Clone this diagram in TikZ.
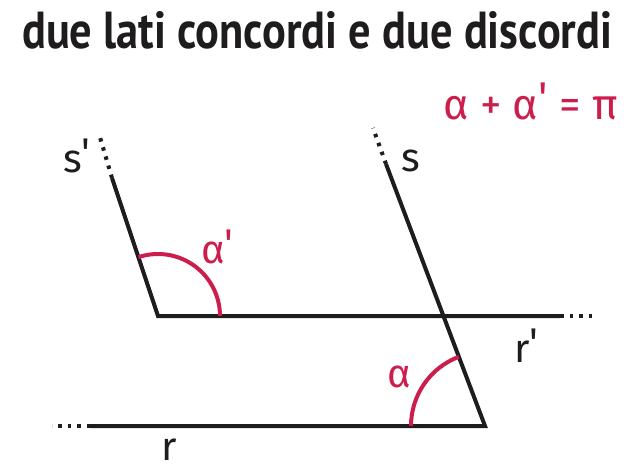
\documentclass[tikz,border=0pt]{standalone}
\usepackage{fontspec}
\usepackage{graphicx}
\newfontfamily\titlefont{PT Sans}
\newfontfamily\labfont{Fira Sans}
\definecolor{ink}{RGB}{30,28,29}
\definecolor{angred}{RGB}{204,30,76}
\newcommand{\pr}{\char"0027}
\tikzset{
  seg/.style={draw=ink, line width=4pt},
  dotext/.style={draw=ink, line width=4pt, dash pattern=on 3.5pt off 6pt},
  angarc/.style={draw=angred, line width=4pt},
  lab/.style={inner sep=0pt, anchor=base west, text=ink, font=\labfont\fontsize{40}{40}\selectfont},
  redlab/.style={lab, text=angred}
}
\begin{document}
\begin{tikzpicture}[x=1pt, y=-1pt]
\useasboundingbox (0,0) rectangle (636,470);
% title
\node[inner sep=0pt, anchor=base west, text=ink] (title) at (22,49)
  {\resizebox{590pt}{37pt}{\titlefont\bfseries due lati concordi e due discordi}};
% formula
\node[redlab, font=\labfont\fontsize{43}{43}\selectfont] (formula) at (443,120) {α + α\raisebox{7pt}{\pr} = π};
% points
\coordinate (A) at (158,316);
\coordinate (Ae) at (560,316);
\coordinate (Ad) at (592,316);
\coordinate (As) at (112,178);
\coordinate (Asd) at (99,134);
\coordinate (B) at (485,426);
\coordinate (Bw) at (90,426);
\coordinate (Bwd) at (52,426);
\coordinate (Bs) at (386,164);
\coordinate (Bsd) at (373,128);
% lines
\draw[seg, line join=miter] (As) -- (A) -- (Ae);
\draw[dotext] (Ae) -- (Ad);
\draw[dotext] (As) -- (Asd);
\draw[seg, line join=miter] (Bw) -- (B) -- (Bs);
\draw[dotext] (Bw) -- (Bwd);
\draw[dotext] (Bs) -- (Bsd);
% arcs
\draw[angarc] (A) ++(0:62) arc[start angle=0, end angle=-108.4, radius=62];
\draw[angarc] (B) ++(-180:74) arc[start angle=-180, end angle=-110.8, radius=74];
% labels
\node[lab] (lsp) at (63,173) {s\raisebox{6pt}{\pr}};
\node[lab] (ls) at (401,172) {s};
\node[redlab] (lap) at (201,263) {α\raisebox{6pt}{\pr}};
\node[redlab] (la) at (387,387) {α};
\node[lab] (lrp) at (514,362) {r\raisebox{6pt}{\pr}};
\node[lab] (lr) at (161,460) {r};
\end{tikzpicture}
\end{document}
